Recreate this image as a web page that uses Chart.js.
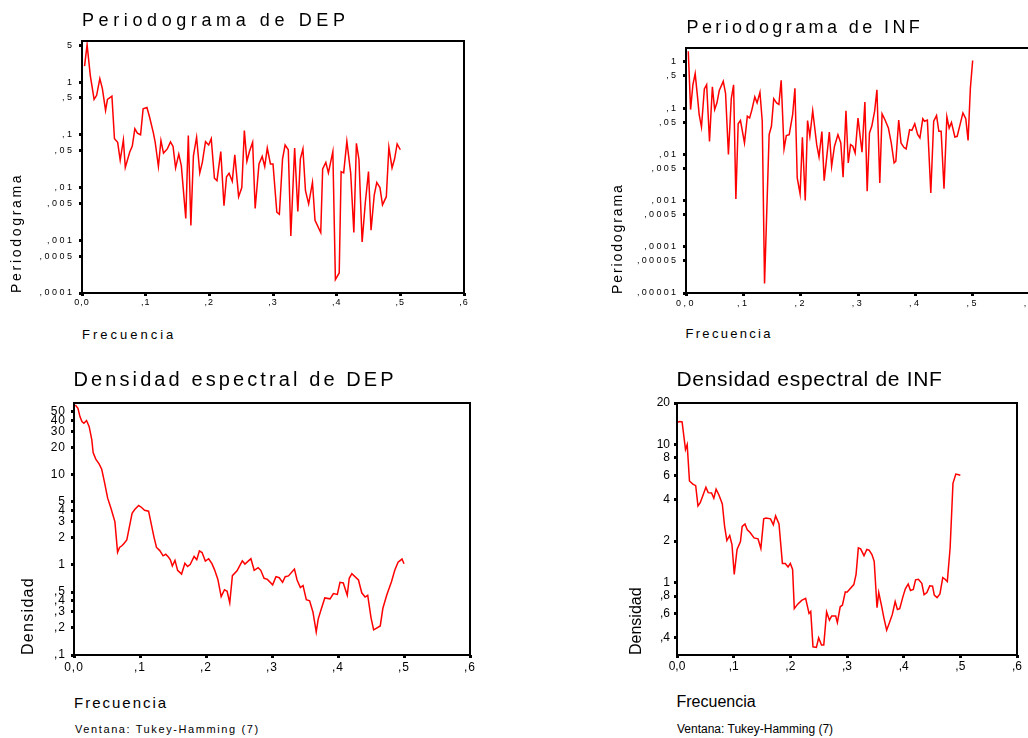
<!DOCTYPE html>
<html><head><meta charset="utf-8">
<script src="https://cdn.jsdelivr.net/npm/chart.js@4"></script>
<style>
html,body{margin:0;padding:0;background:#fff;}
body{width:1028px;height:738px;overflow:hidden;position:relative;font-family:"Liberation Sans",Arial,sans-serif;color:#000;}
canvas{position:absolute;}
.t{position:absolute;white-space:nowrap;line-height:1;margin:0;padding:0;}
</style></head><body>
<canvas id="c1" width="480" height="320" style="left:0px;top:0px"></canvas>
<canvas id="c2" width="460" height="320" style="left:590px;top:0px"></canvas>
<canvas id="c3" width="500" height="320" style="left:0px;top:360px"></canvas>
<canvas id="c4" width="440" height="320" style="left:590px;top:360px"></canvas>
<script>
// ---------- tick values / labels ----------
const freqTicks = [0, 0.1, 0.2, 0.3, 0.4, 0.5, 0.6];
const freqTickLabels = ["0,0", ",1", ",2", ",3", ",4", ",5", ",6"];
const depPerTicks = [0.0001, 0.0005, 0.001, 0.005, 0.01, 0.05, 0.1, 0.5, 1, 5];
const depPerTickLabels = [",0001", ",0005", ",001", ",005", ",01", ",05", ",1", ",5", "1", "5"];
const infPerTicks = [0.00001, 0.00005, 0.0001, 0.0005, 0.001, 0.005, 0.01, 0.05, 0.1, 0.5, 1];
const infPerTickLabels = [",00001", ",00005", ",0001", ",0005", ",001", ",005", ",01", ",05", ",1", ",5", "1"];
const depDenTicks = [0.1, 0.2, 0.3, 0.4, 0.5, 1, 2, 3, 4, 5, 10, 20, 30, 40, 50];
const depDenTickLabels = [",1", ",2", ",3", ",4", ",5", "1", "2", "3", "4", "5", "10", "20", "30", "40", "50"];
const infDenTicks = [0.4, 0.6, 0.8, 1, 2, 4, 6, 8, 10, 20];
const infDenTickLabels = [",4", ",6", ",8", "1", "2", "4", "6", "8", "10", "20"];

// ---------- Periodograma de DEP ----------
const depPerFreq = [0.004,0.008,0.013,0.019,0.023,0.028,0.032,0.037,0.040,0.047,
0.051,0.056,0.060,0.065,0.068,0.075,0.079,0.083,0.087,0.092,
0.096,0.102,0.106,0.112,0.115,0.120,0.124,0.128,0.134,0.139,
0.143,0.147,0.152,0.156,0.163,0.167,0.171,0.175,0.180,0.185,
0.189,0.194,0.199,0.203,0.208,0.212,0.218,0.223,0.227,0.231,
0.236,0.240,0.246,0.251,0.255,0.259,0.263,0.268,0.272,0.278,
0.283,0.287,0.291,0.296,0.300,0.306,0.310,0.315,0.319,0.324,
0.328,0.334,0.339,0.343,0.347,0.351,0.356,0.362,0.366,0.375,
0.378,0.383,0.387,0.394,0.398,0.404,0.407,0.411,0.416,0.422,
0.427,0.431,0.435,0.440,0.445,0.450,0.454,0.459,0.463,0.468,
0.472,0.478,0.482,0.487,0.491,0.495,0.500];
const depPerVal = [2.0,5.1,1.34,0.47,0.56,1.16,0.75,0.29,0.47,0.54,
0.084,0.072,0.033,0.080,0.024,0.047,0.061,0.13,0.107,0.10,
0.31,0.33,0.22,0.11,0.072,0.025,0.078,0.045,0.054,0.073,
0.060,0.0235,0.043,0.026,0.0026,0.097,0.0019,0.040,0.090,0.019,
0.030,0.074,0.064,0.084,0.015,0.0135,0.048,0.0045,0.016,0.0186,
0.0131,0.0415,0.0067,0.010,0.12,0.0315,0.048,0.072,0.0040,0.028,
0.039,0.025,0.056,0.028,0.028,0.0034,0.0031,0.035,0.064,0.052,
0.0012,0.056,0.0035,0.035,0.054,0.0087,0.0049,0.0125,0.0024,0.0014,
0.0225,0.030,0.019,0.048,0.00018,0.00024,0.020,0.019,0.075,0.019,
0.0014,0.069,0.034,0.00093,0.0052,0.020,0.00155,0.0072,0.0125,0.010,
0.0047,0.0067,0.058,0.0235,0.035,0.067,0.052];

// ---------- Periodograma de INF ----------
const infPerFreq = [0.004,0.008,0.012,0.016,0.020,0.023,0.027,0.032,0.036,0.041,
0.046,0.050,0.054,0.058,0.065,0.069,0.074,0.079,0.083,0.087,
0.091,0.095,0.102,0.107,0.111,0.115,0.120,0.124,0.129,0.133,
0.137,0.145,0.149,0.153,0.158,0.162,0.166,0.171,0.175,0.180,
0.186,0.190,0.194,0.199,0.203,0.208,0.212,0.216,0.221,0.228,
0.232,0.237,0.241,0.245,0.250,0.254,0.259,0.265,0.270,0.274,
0.279,0.283,0.287,0.291,0.295,0.300,0.307,0.312,0.316,0.320,
0.324,0.329,0.333,0.338,0.342,0.347,0.353,0.358,0.363,0.366,
0.371,0.375,0.380,0.384,0.390,0.394,0.399,0.404,0.408,0.413,
0.416,0.421,0.427,0.432,0.437,0.441,0.445,0.450,0.455,0.459,
0.463,0.469,0.473,0.478,0.483,0.488,0.492,0.496,0.500];
const infPerVal = [1.70,0.093,0.32,0.56,0.18,0.072,0.039,0.26,0.32,0.019,
0.29,0.093,0.13,0.24,0.38,0.21,0.0099,0.16,0.32,0.00108,
0.046,0.054,0.0177,0.067,0.061,0.093,0.175,0.13,0.22,0.052,
0.000016,0.0267,0.0405,0.16,0.13,0.12,0.40,0.0131,0.0254,0.0267,
0.072,0.27,0.0031,0.0014,0.0234,0.0010,0.054,0.0246,0.088,0.0162,
0.0088,0.031,0.0027,0.0077,0.0305,0.0055,0.0150,0.0267,0.0177,0.0032,
0.088,0.0065,0.0162,0.0150,0.0107,0.061,0.0111,0.136,0.0016,0.029,
0.0405,0.086,0.25,0.0024,0.075,0.056,0.037,0.0177,0.0065,0.0071,
0.055,0.0177,0.0142,0.0131,0.034,0.033,0.046,0.027,0.0226,0.059,
0.052,0.055,0.00146,0.052,0.069,0.0316,0.0316,0.0018,0.065,0.037,
0.049,0.0238,0.0246,0.044,0.079,0.059,0.020,0.27,1.07];

// ---------- Densidad espectral de DEP ----------
const depDenFreq = [0.002,0.006,0.009,0.012,0.015,0.019,0.023,0.027,0.029,0.033,
0.038,0.042,0.046,0.051,0.056,0.062,0.066,0.069,0.073,0.076,
0.080,0.084,0.088,0.092,0.098,0.102,0.107,0.113,0.116,0.121,
0.125,0.130,0.135,0.139,0.143,0.146,0.149,0.153,0.157,0.163,
0.168,0.172,0.176,0.182,0.186,0.190,0.194,0.199,0.204,0.209,
0.213,0.218,0.223,0.228,0.232,0.236,0.240,0.247,0.255,0.259,
0.268,0.273,0.279,0.283,0.288,0.293,0.301,0.306,0.311,0.316,
0.320,0.325,0.334,0.338,0.343,0.347,0.352,0.357,0.362,0.367,
0.370,0.375,0.380,0.388,0.393,0.399,0.403,0.408,0.414,0.417,
0.421,0.431,0.436,0.441,0.445,0.450,0.454,0.464,0.468,0.474,
0.481,0.486,0.491,0.497,0.500];
const depDenVal = [59.5,54.7,44.2,38.9,37.3,39.9,34.2,24.3,17.6,14.9,
13.2,11.5,8.4,5.5,4.25,3.0,1.38,1.56,1.64,1.74,
1.89,2.66,3.74,4.11,4.55,4.36,4.04,3.94,3.10,2.06,
1.56,1.44,1.26,1.31,1.22,1.14,0.97,1.12,0.87,0.79,
1.04,0.96,1.01,1.24,1.14,1.43,1.37,1.10,1.17,1.03,
0.88,0.69,0.445,0.53,0.51,0.38,0.76,0.86,1.11,1.02,
1.17,0.87,0.93,0.87,0.71,0.69,0.60,0.74,0.72,0.64,
0.74,0.755,0.90,0.68,0.56,0.59,0.41,0.40,0.30,0.18,
0.25,0.33,0.43,0.42,0.48,0.47,0.64,0.63,0.46,0.71,
0.80,0.68,0.49,0.44,0.46,0.26,0.19,0.21,0.33,0.465,
0.65,0.87,1.07,1.16,1.03];

// ---------- Densidad espectral de INF ----------
const infDenFreq = [0.001,0.005,0.009,0.015,0.018,0.022,0.028,0.033,0.037,0.041,
0.046,0.051,0.055,0.061,0.065,0.069,0.074,0.080,0.084,0.088,
0.093,0.097,0.101,0.106,0.112,0.115,0.120,0.124,0.129,0.136,
0.143,0.148,0.153,0.157,0.165,0.170,0.174,0.180,0.186,0.191,
0.196,0.200,0.204,0.207,0.213,0.220,0.227,0.233,0.236,0.240,
0.246,0.250,0.255,0.259,0.264,0.269,0.273,0.280,0.283,0.288,
0.292,0.297,0.300,0.312,0.316,0.320,0.324,0.330,0.335,0.339,
0.344,0.348,0.353,0.356,0.361,0.365,0.370,0.375,0.380,0.385,
0.389,0.393,0.399,0.403,0.408,0.412,0.417,0.421,0.426,0.432,
0.436,0.441,0.446,0.451,0.454,0.459,0.464,0.469,0.473,0.477,
0.482,0.487,0.492,0.497,0.500];
const infDenVal = [14.5,14.7,14.6,9.2,10.0,5.45,5.18,5.04,3.60,3.80,
4.32,4.91,4.49,4.47,4.09,4.75,4.32,3.72,2.56,2.02,
2.20,1.89,1.15,1.74,1.99,2.56,2.66,2.42,2.31,2.11,
2.08,1.77,2.90,2.94,2.90,2.63,3.05,2.66,1.38,1.38,
1.30,1.38,1.25,0.65,0.70,0.746,0.77,0.60,0.62,0.344,
0.34,0.40,0.354,0.354,0.615,0.536,0.575,0.575,0.515,0.67,
0.69,0.86,0.855,0.97,1.15,1.79,1.76,1.57,1.74,1.72,
1.60,1.43,0.66,0.85,0.68,0.56,0.454,0.515,0.59,0.73,
0.64,0.65,0.80,0.905,0.98,0.88,0.895,1.05,1.06,0.99,
0.82,0.85,0.95,0.945,0.815,0.78,0.83,1.09,1.06,1.02,
1.79,5.24,6.12,6.05,6.0];

// ---------- helpers ----------
const FAMILY = '"Liberation Sans", Arial, sans-serif';

function lookup(vals, labels, v) {
  for (let i = 0; i < vals.length; i++) {
    if (Math.abs(vals[i] - v) <= Math.abs(vals[i]) * 1e-6 + 1e-12) return labels[i];
  }
  return '';
}

function addText(str, x, base, fs, ls, rotated) {
  const d = document.createElement('div');
  d.className = 't';
  d.textContent = str;
  d.style.fontSize = fs + 'px';
  d.style.letterSpacing = ls + 'px';
  const asc = 0.8465 * fs;
  if (!rotated) {
    d.style.left = x + 'px';
    d.style.top = (base - asc) + 'px';
  } else {
    d.style.left = (x - asc) + 'px';
    d.style.top = base + 'px';
    d.style.transformOrigin = '0 0';
    d.style.transform = 'rotate(-90deg)';
  }
  document.body.appendChild(d);
}

const framePlugin = {
  id: 'frame',
  afterDraw(chart) {
    const a = chart.chartArea, c = chart.ctx;
    c.save();
    c.strokeStyle = '#000';
    c.lineWidth = 2;
    c.strokeRect(a.left, a.top, a.right - a.left, a.bottom - a.top);
    c.restore();
  }
};

const spacingPlugin = {
  id: 'spacing',
  beforeDraw(chart, args, opts) {
    ['x', 'y'].forEach(id => {
      const sc = chart.scales[id];
      if (sc && !sc._lsWrapped) {
        const orig = sc.drawLabels;
        const ls = (opts && opts[id]) || 0;
        sc.drawLabels = function (ca) {
          const c = this.ctx;
          const prev = c.letterSpacing;
          c.letterSpacing = ls + 'px';
          orig.call(this, ca);
          c.letterSpacing = prev;
        };
        sc._lsWrapped = true;
      }
    });
  }
};

function makeChart(id, cfg) {
  return new Chart(document.getElementById(id), {
    type: 'line',
    data: {
      datasets: [{
        data: cfg.freq.map((f, i) => ({ x: f, y: cfg.vals[i] })),
        borderColor: '#ff0000',
        borderWidth: 1.5,
        pointRadius: 0,
        fill: false,
        tension: 0
      }]
    },
    options: {
      responsive: false,
      animation: false,
      events: [],
      devicePixelRatio: 1,
      layout: { padding: cfg.pad },
      plugins: {
        legend: { display: false },
        tooltip: { enabled: false },
        title: { display: false },
        spacing: { x: cfg.lsx, y: cfg.lsy }
      },
      scales: {
        x: {
          type: 'linear', min: 0, max: 0.6,
          afterFit: s => { s.height = 20; },
          afterBuildTicks: s => { s.ticks = freqTicks.map(v => ({ value: v })); },
          ticks: {
            autoSkip: false, maxRotation: 0, minRotation: 0, padding: cfg.xpad,
            color: '#000', font: { family: FAMILY, size: cfg.fs },
            callback: v => lookup(freqTicks, freqTickLabels, v)
          },
          grid: { drawOnChartArea: false, drawTicks: true, tickLength: 3, tickWidth: 3, tickColor: '#000' },
          border: { display: false }
        },
        y: {
          type: 'logarithmic', min: cfg.ymin, max: cfg.ymax,
          afterFit: s => { s.width = cfg.yw; },
          afterBuildTicks: s => { s.ticks = cfg.yt.map(v => ({ value: v })); },
          ticks: {
            autoSkip: false, padding: cfg.ypad,
            color: '#000', font: { family: FAMILY, size: cfg.fs },
            callback: v => lookup(cfg.yt, cfg.yl, v)
          },
          grid: { drawOnChartArea: false, drawTicks: true, tickLength: 3, tickWidth: 3, tickColor: '#000' },
          border: { display: false }
        }
      }
    },
    plugins: [framePlugin, spacingPlugin]
  });
}

// ---------- charts ----------
makeChart('c1', {
  freq: depPerFreq, vals: depPerVal, yt: depPerTicks, yl: depPerTickLabels,
  ymin: 0.0001, ymax: 6, yw: 82, pad: { left: 0, top: 41, right: 16, bottom: 7 },
  fs: 9, lsx: 1, lsy: 2.5, ypad: 4.5, xpad: 1
});
makeChart('c2', {
  freq: infPerFreq, vals: infPerVal, yt: infPerTicks, yl: infPerTickLabels,
  ymin: 0.00001, ymax: 2, yw: 96, pad: { left: 0, top: 48, right: 20, bottom: 7 },
  fs: 9, lsx: 2.5, lsy: 2.3, ypad: 4.7, xpad: 1.8
});
makeChart('c3', {
  freq: depDenFreq, vals: depDenVal, yt: depDenTicks, yl: depDenTickLabels,
  ymin: 0.1, ymax: 62.5, yw: 74, pad: { left: 0, top: 43, right: 30, bottom: 5 },
  fs: 12, lsx: 1, lsy: 1, ypad: 5, xpad: 2.8
});
makeChart('c4', {
  freq: infDenFreq, vals: infDenVal, yt: infDenTicks, yl: infDenTickLabels,
  ymin: 0.303, ymax: 20, yw: 87, pad: { left: 0, top: 43, right: 13, bottom: 5 },
  fs: 12, lsx: 0, lsy: 0, ypad: 4, xpad: 1.8
});

// ---------- texts ----------
addText('Periodograma de DEP', 82, 26, 18, 4.6, false);
addText('Periodograma', 20.5, 293, 14, 2.7, true);
addText('Frecuencia', 82, 339.5, 13, 3.0, false);

addText('Periodograma de INF', 686.5, 33, 18, 3.4, false);
addText('Periodograma', 621.5, 294, 14, 1.9, true);
addText('Frecuencia', 685.5, 338.5, 13, 2.3, false);

addText('Densidad espectral de DEP', 73.5, 386, 20, 3.1, false);
addText('Densidad', 33.3, 655, 16, 1.3, true);
addText('Frecuencia', 74, 707.7, 15, 2, false);
addText('Ventana: Tukey-Hamming (7)', 75, 733, 11, 1.6, false);

addText('Densidad espectral de INF', 676.5, 386, 21, 0.7, false);
addText('Densidad', 642, 655, 16, 0, true);
addText('Frecuencia', 676.5, 707.7, 16, 0, false);
addText('Ventana: Tukey-Hamming (7)', 677, 733, 12, 0, false);
</script>
</body></html>
